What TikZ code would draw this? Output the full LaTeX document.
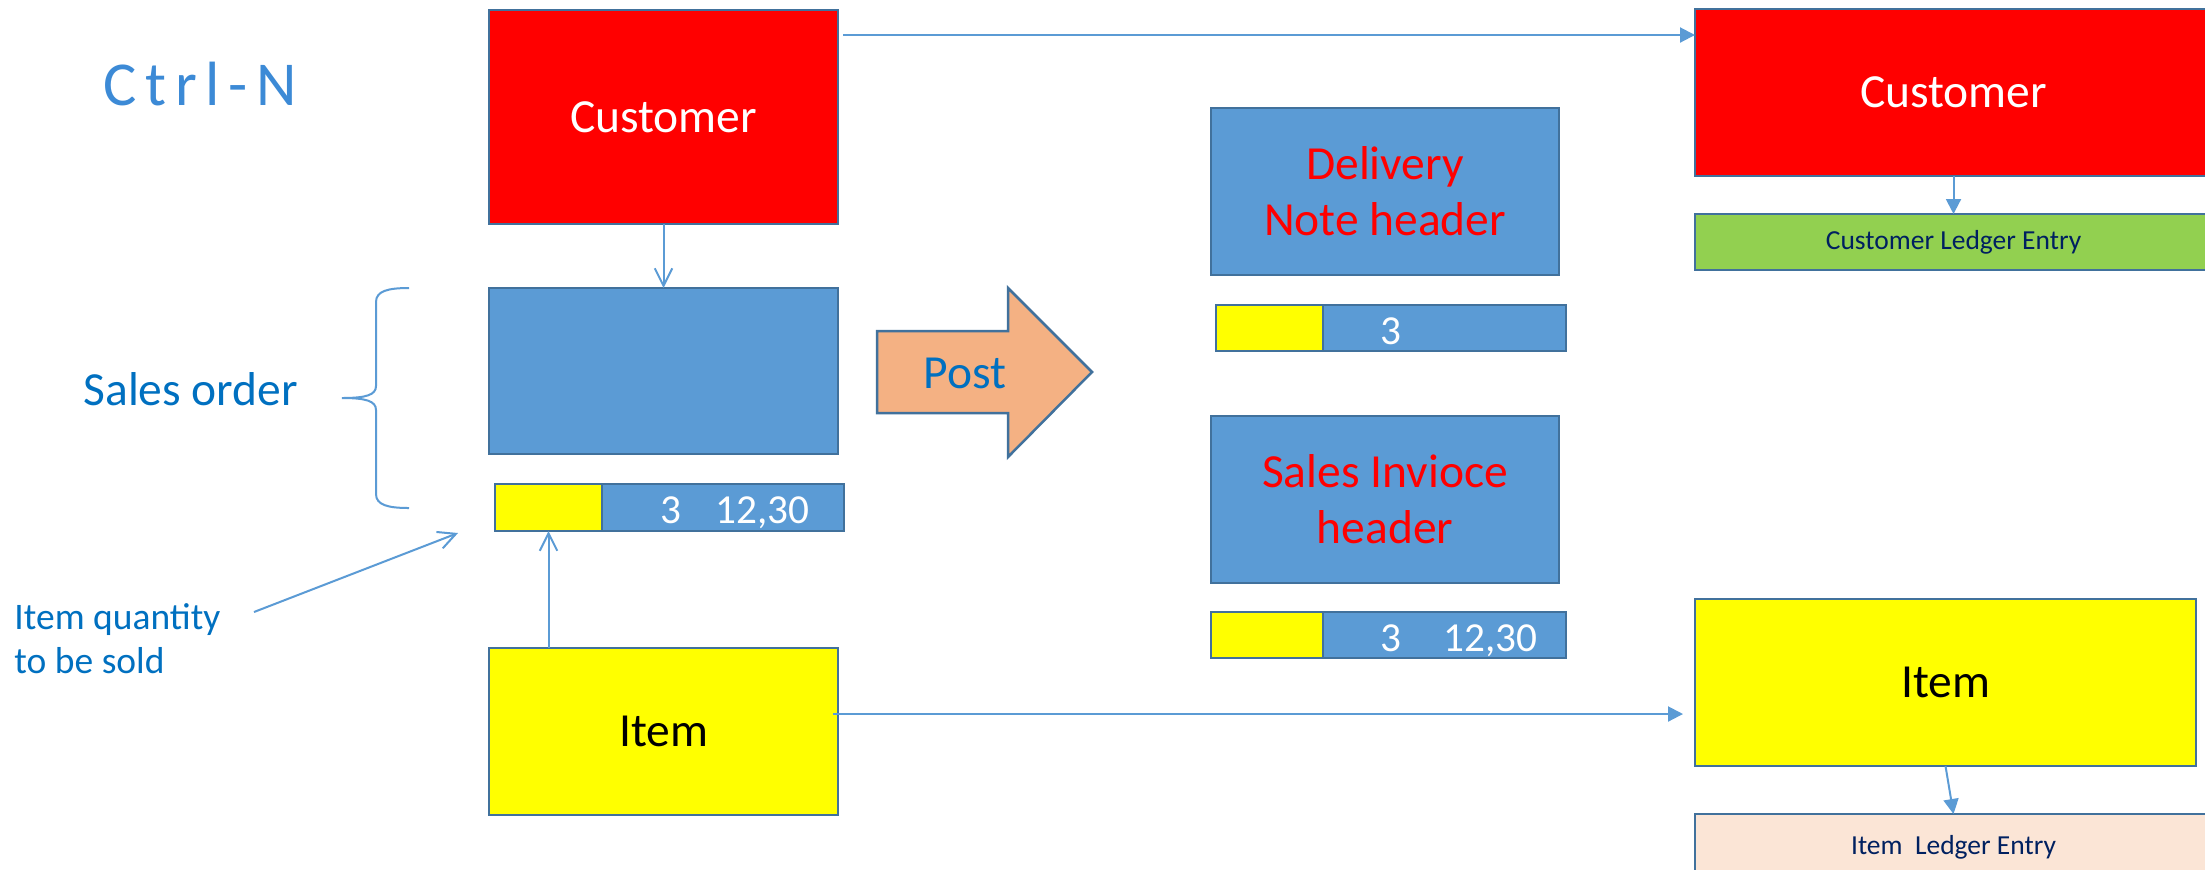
\documentclass[tikz,border=0pt]{standalone}
\usepackage{fontspec}
\setmainfont{Carlito}
\usetikzlibrary{arrows.meta,calc}
\definecolor{boxline}{HTML}{41719C}
\definecolor{boxblue}{HTML}{5B9BD5}
\definecolor{connblue}{HTML}{5B9BD5}
\definecolor{txtblue}{HTML}{0070C0}
\definecolor{ctrlblue}{HTML}{3C8AD6}
\definecolor{ledgergreen}{HTML}{92D050}
\definecolor{ledgerpeach}{HTML}{FBE5D6}
\definecolor{postfill}{HTML}{F4B183}
\definecolor{navy}{HTML}{002060}
\definecolor{pureyellow}{HTML}{FFFF00}
\definecolor{purered}{HTML}{FF0000}
\begin{document}
\begin{tikzpicture}[x=0.4pt,y=-0.4pt,
 box/.style={draw=boxline, line width=1pt, inner sep=0pt, outer sep=0pt, rectangle, align=center},
 big/.style={font=\fontsize{19}{22.4}\selectfont},
 bartxt/.style={anchor=base west, inner sep=0pt, text=white, font=\fontsize{16.5}{19}\selectfont},
 ledger/.style={box, text=navy, font=\fontsize{11}{13}\selectfont},
 conn/.style={draw=connblue, line width=0.8pt},
 openhead/.style={conn, -{Straight Barb[length=7pt,width=7pt]}},
 fillhead/.style={conn, -{Triangle[length=6pt,width=6pt]}},
]
\clip (0,0) rectangle (2205,869);
\fill[white] (0,0) rectangle (2205,869);

% left column
\node[box, fill=purered, big, text=white, minimum width=139.6pt, minimum height=85.6pt] (custL) at (663.5,117) {Customer};
\node[box, fill=boxblue, minimum width=139.6pt, minimum height=66.4pt] (soHead) at (663.5,371) {};
\node[box, fill=boxblue, minimum width=139.6pt, minimum height=18.8pt] (soLine) at (669.5,507.5) {};
\node[box, fill=pureyellow, minimum width=42.8pt, minimum height=18.8pt] (soYel) at (548.5,507.5) {};
\node[bartxt] (soTxt) at (660,523) {3\hspace{13.6pt}12,30};
\node[box, fill=pureyellow, big, minimum width=139.6pt, minimum height=66.8pt] (itemL) at (663.5,731.5) {Item};

% labels
\node[anchor=base west, inner sep=0pt, text=ctrlblue, font=\fontsize{25}{30}\selectfont\addfontfeatures{LetterSpace=14}] (ctrl) at (103,105) {Ctrl-N};
\node[anchor=base west, inner sep=0pt, text=txtblue, big] (so) at (83,405) {Sales order};
\node[anchor=north west, align=left, inner sep=0pt, text=txtblue, font=\fontsize{15}{17.6}\selectfont] (qty) at (14,603) {Item quantity\\to be sold};

% brace
\draw[conn] (409,288) .. controls (388,288) and (376,291) .. (376,302) -- (376,386)
  .. controls (376,395) and (366,398) .. (342,398)
  .. controls (366,398) and (376,401) .. (376,410) -- (376,494)
  .. controls (376,505) and (388,508) .. (409,508);

% post arrow
\draw[boxline, line width=1pt, fill=postfill] (877,331) -- (1008,331) -- (1008,288) -- (1092,372) -- (1008,457) -- (1008,413) -- (877,413) -- cycle;
\node[anchor=base, inner sep=0pt, text=txtblue, big] (post) at (965,388) {Post};

% middle column
\node[box, fill=boxblue, big, text=purered, minimum width=139.2pt, minimum height=66.8pt] (delHead) at (1385,191.5) {Delivery\\Note header};
\node[box, fill=boxblue, minimum width=140pt, minimum height=18.4pt] (delLine) at (1391,328) {};
\node[box, fill=pureyellow, minimum width=42.8pt, minimum height=18.4pt] (delYel) at (1269.5,328) {};
\node[bartxt] (delTxt) at (1380,344) {3};
\node[box, fill=boxblue, big, text=purered, minimum width=139.2pt, minimum height=66.8pt] (invHead) at (1385,499.5) {Sales Invioce\\header};
\node[box, fill=boxblue, minimum width=142pt, minimum height=18.4pt] (invLine) at (1388.5,635) {};
\node[box, fill=pureyellow, minimum width=44.8pt, minimum height=18.4pt] (invYel) at (1267,635) {};
\node[bartxt] (invTxt) at (1380,651) {3\hspace{16.8pt}12,30};

% right column
\node[box, fill=purered, big, text=white, minimum width=206.8pt, minimum height=66.8pt] (custR) at (1953.5,92.5) {Customer};
\node[ledger, fill=ledgergreen, minimum width=206.8pt, minimum height=22.4pt] (cle) at (1953.5,242) {Customer Ledger Entry};
\node[box, fill=pureyellow, big, minimum width=200.4pt, minimum height=66.8pt] (itemR) at (1945.5,682.5) {Item};
\node[ledger, fill=ledgerpeach, minimum width=206.8pt, minimum height=26.4pt] (ile) at (1953.5,847) {Item\ \ Ledger Entry};

% connectors
\coordinate (cy) at (0,35);
\coordinate (iy) at (0,714);
\coordinate (qStart) at (254,612);
\coordinate (qEnd) at (458,533);
\draw[openhead] (custL.south) -- (soHead.north);
\draw[openhead] (itemL.north -| soYel.south) -- (soYel.south);
\draw[openhead] (qStart) -- (qEnd);
\draw[fillhead] ([xshift=2pt]custL.east |- cy) -- (custR.west |- cy);
\draw[fillhead, shorten >=4.8pt] ([xshift=-2pt]itemL.east |- iy) -- (itemR.west |- iy);
\draw[fillhead] (custR.south) -- (cle.north);
\draw[fillhead] (itemR.south) -- (ile.north);
\end{tikzpicture}
\end{document}
